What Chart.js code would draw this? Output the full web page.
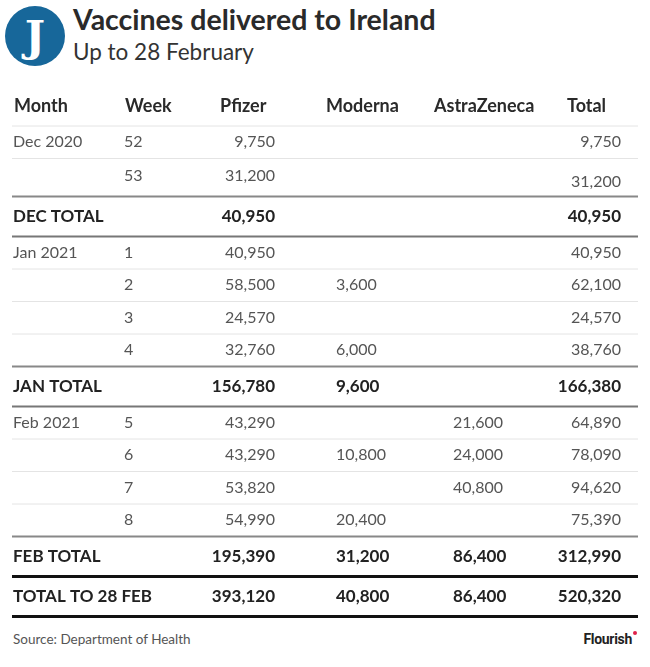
<!DOCTYPE html>
<html lang="en">
<head>
<meta charset="UTF-8">
<title>Vaccines delivered to Ireland</title>
<script src="https://cdn.jsdelivr.net/npm/chart.js"></script>
<style>
  body { margin: 0; width: 650px; height: 667px; background: #fff; font-family: Lato, sans-serif; position: relative; overflow: hidden; }
  #logo { position: absolute; left: 5px; top: 6px; width: 60px; height: 60px; border-radius: 50%; background: #17679a;
          color: #fff; font: bold 43px "DejaVu Serif", serif; text-align: center; line-height: 60px; }
  #title { position: absolute; left: 73px; top: 2px; font-weight: bold; font-size: 28.5px; color: #2a2a2a; }
  #subtitle { position: absolute; left: 73px; top: 38px; font-size: 22.5px; color: #333; }
  #tableChart { position: absolute; left: 0; top: 86px; }
  #source { position: absolute; left: 13px; top: 631px; font-size: 13.5px; color: #555; }
  #flourish { position: absolute; right: 18px; top: 631px; font: bold 14px Roboto, sans-serif; color: #222; letter-spacing: -0.3px; }
  #flourish i { position: absolute; right: -5px; top: 0; width: 4px; height: 4px; border-radius: 50%; background: #e0224a; }
</style>
</head>
<body>
<div id="logo">J</div>
<div id="title">Vaccines delivered to Ireland</div>
<div id="subtitle">Up to 28 February</div>
<canvas id="tableChart" width="650" height="534"></canvas>
<div id="source">Source: Department of Health</div>
<div id="flourish">Flourish<i></i></div>

<script>
  // table data
  const columns = ['Month', 'Week', 'Pfizer', 'Moderna', 'AstraZeneca', 'Total'];
  const months = ['Dec 2020', 'Jan 2021', 'Feb 2021'];
  const weeksPerMonth = [2, 4, 4];
  const weeks = [52, 53, 1, 2, 3, 4, 5, 6, 7, 8];
  const pfizer = [9750, 31200, 40950, 58500, 24570, 32760, 43290, 43290, 53820, 54990];
  const moderna = [null, null, null, 3600, null, 6000, null, 10800, null, 20400];
  const astraZeneca = [null, null, null, null, null, null, 21600, 24000, 40800, null];
  const weekTotal = [9750, 31200, 40950, 62100, 24570, 38760, 64890, 78090, 94620, 75390];

  const totalLabels = ['DEC TOTAL', 'JAN TOTAL', 'FEB TOTAL', 'TOTAL TO 28 FEB'];
  const totalPfizer = [40950, 156780, 195390, 393120];
  const totalModerna = [null, 9600, 31200, 40800];
  const totalAstraZeneca = [null, null, 86400, 86400];
  const totalAll = [40950, 166380, 312990, 520320];

  // layout
  const headX = [14, 125, 220, 326, 434, 567];
  const cellX = [13, 124, 275, 336, 453, 621];
  const cellAlign = ['left', 'left', 'right', 'left', 'left', 'right'];
  const TABLE_LEFT = 12, TABLE_RIGHT = 638;
  const HEAD_H = 40, WEEK_H = 32.5, TOTAL_H = 40;

  const fmt = v => (v === null || v === undefined) ? '' : v.toLocaleString('en-US');

  // build row list from the arrays
  function buildRows() {
    const rows = [];
    let w = 0;
    months.forEach((m, mi) => {
      for (let k = 0; k < weeksPerMonth[mi]; k++, w++) {
        rows.push({
          kind: 'week',
          cells: [k === 0 ? m : '', String(weeks[w]), fmt(pfizer[w]), fmt(moderna[w]), fmt(astraZeneca[w]), fmt(weekTotal[w])],
          // second Dec row: total cell sits lower in the original
          drop: (mi === 0 && k === 1)
        });
      }
      rows.push({
        kind: 'total',
        cells: [totalLabels[mi], '', fmt(totalPfizer[mi]), fmt(totalModerna[mi]), fmt(totalAstraZeneca[mi]), fmt(totalAll[mi])]
      });
    });
    const g = totalLabels.length - 1;
    rows.push({
      kind: 'total',
      cells: [totalLabels[g], '', fmt(totalPfizer[g]), fmt(totalModerna[g]), fmt(totalAstraZeneca[g]), fmt(totalAll[g])],
      grand: true
    });
    return rows;
  }

  const rows = buildRows();

  const tablePlugin = {
    id: 'tablePlugin',
    afterDraw(chart) {
      const ctx = chart.ctx;
      const xs = chart.scales.x, ys = chart.scales.y;
      const px = v => xs.getPixelForValue(v);
      const py = v => ys.getPixelForValue(v);

      function rule(y, width, color) {
        ctx.save();
        ctx.strokeStyle = color;
        ctx.lineWidth = width;
        ctx.beginPath();
        ctx.moveTo(px(TABLE_LEFT), py(y));
        ctx.lineTo(px(TABLE_RIGHT), py(y));
        ctx.stroke();
        ctx.restore();
      }

      ctx.save();
      ctx.textBaseline = 'middle';

      // header
      ctx.font = 'bold 18px Lato';
      ctx.fillStyle = '#2a2a2a';
      ctx.textAlign = 'left';
      columns.forEach((c, i) => ctx.fillText(c, px(headX[i]), py(HEAD_H / 2)));
      rule(HEAD_H, 1, '#e4e4e4');

      let top = HEAD_H;
      rows.forEach((r, ri) => {
        const h = r.kind === 'total' ? TOTAL_H : (r.drop ? 38 : WEEK_H);
        const mid = top + h / 2;
        if (r.kind === 'total') {
          ctx.font = 'bold 17px Lato';
          ctx.fillStyle = '#222';
        } else {
          ctx.font = '16px Lato';
          ctx.fillStyle = '#555';
        }
        r.cells.forEach((t, ci) => {
          if (!t) return;
          ctx.textAlign = cellAlign[ci];
          let y = mid;
          if (r.drop) y = (ci === 5) ? mid + 4 : mid - 2;
          ctx.fillText(t, px(cellX[ci]), py(y));
        });
        top += h;
        const next = rows[ri + 1];
        if (r.grand) {
          rule(top, 3, '#111');
        } else if (r.kind === 'total') {
          const heavy = next && next.kind === 'total';
          rule(top, heavy ? 3 : 2, heavy ? '#111' : '#777');
        } else if (next && next.kind === 'total') {
          rule(top, 2, '#888');
        } else {
          rule(top, 1, '#e4e4e4');
        }
      });
      ctx.restore();
    }
  };

  const ctx = document.getElementById('tableChart').getContext('2d');
  new Chart(ctx, {
    type: 'scatter',
    data: { datasets: [{ data: [] }] },
    plugins: [tablePlugin],
    options: {
      responsive: false,
      animation: false,
      events: [],
      layout: { padding: 0 },
      plugins: { legend: { display: false }, tooltip: { enabled: false } },
      scales: {
        x: { type: 'linear', min: 0, max: 650, display: false },
        y: { type: 'linear', min: 0, max: 534, reverse: true, display: false }
      }
    }
  });
</script>
</body>
</html>
